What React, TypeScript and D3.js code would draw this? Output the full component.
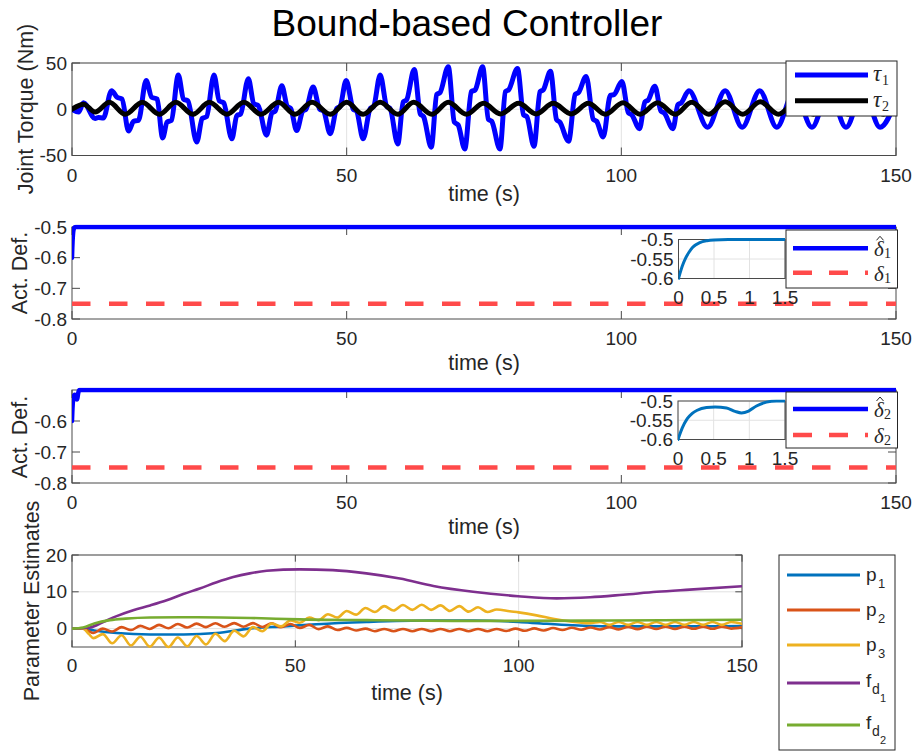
import React from "react";
import * as d3 from "d3";

const WIDTH = 918;
const HEIGHT = 751;
const SANS = "'Liberation Sans', Arial, Helvetica, sans-serif";
const SERIF = "'Liberation Serif', 'DejaVu Serif', 'Times New Roman', serif";
const INK = "#262626";
const AXIS = "#4a4a4a";
const GRID = "#e2e2e2";

// ---------- shared ticks ----------
const timeTicks = [0, 50, 100, 150];
const torqueTicks = [-50, 0, 50];
const def1Ticks = [-0.8, -0.7, -0.6, -0.5];
const def2Ticks = [-0.8, -0.7, -0.6];
const paramTicks = [0, 10, 20];
const zoomTimeTicks = [0, 0.5, 1, 1.5];
const zoomDefTicks = [-0.6, -0.55, -0.5];

// ---------- joint torques (Nm) ----------
const tau1Time = [0, 1.2, 2.1, 4.2, 4.8, 5.7, 7.2, 8.2, 9.1, 10.3, 11.2, 12.1, 13.5, 14.5, 15.5, 16.5, 17.3, 18.1, 19.35, 20.3, 21.1, 22.7, 23.7, 24.5, 25.85, 26.8, 27.6, 29.1, 30.0, 30.7, 32.1, 33.1, 33.9, 35.4, 36.4, 37.0, 38.2, 39.2, 39.8, 40.9, 42.0, 42.6, 43.9, 45.1, 45.8, 47.0, 48.2, 48.8, 49.9, 51.2, 51.8, 53.0, 54.3, 54.9, 56.1, 57.3, 57.9, 59.3, 60.3, 60.9, 62.3, 63.4, 64.0, 65.4, 66.4, 67.0, 68.5, 69.6, 70.3, 71.5, 72.7, 73.4, 74.75, 75.8, 76.4, 77.9, 78.9, 79.5, 81.1, 82.2, 82.8, 84.1, 85.2, 85.8, 87.1, 88.2, 88.8, 90.4, 91.6, 92.2, 93.6, 94.9, 95.5, 96.7, 98.0, 98.7, 100.1, 101.3, 101.9, 103.3, 104.3, 104.9, 106.1, 107.2, 107.8, 109.4, 110.3, 110.9, 112.3, 115.7, 118.9, 122.0, 125.2, 128.3, 131.5, 134.7, 137.8, 140.9, 144.0, 147.1, 150];
const tau1Value = [0, -3, 7, -10, -9, -9.5, 20, 13, 11, -23.5, -13, -12, 31, 13, 11, -31, -14, -12, 37, 11, 9, -35.5, -10, -8, 37, 9, 7, -32, -7, -5, 33, 6, 4, -28, -4, -2, 25.4, 3, 1, -23, -2, 0, 24, 0, -2, -26.5, 1, 3, 31, 0, -2, -32, 1, 3, 37, 3, 1, -37.5, 8, 10, 43, -5, -8, -41, 16, 18, 46, -14, -17, -43, 19, 21, 46, -11, -13, -43, 19, 21, 44, -6, -8, -40, 19, 21, 41, -11, -14, -34.5, 16, 18, 35.5, -11, -13, -30, 15, 16, 30, -4, -6, -21, 8, 10, 25, -2, -4, -21, 5, 7, 20, -19.5, 20, -19.5, 20, -19.5, 20, -19.5, 20, -19.5, 20, -19.5, 10];

const tau2Time = [0, 2.1, 4.2, 6.8, 9.7, 12.8, 15.9, 18.9, 22.0, 25.0, 28.2, 31.3, 34.4, 37.6, 40.6, 43.7, 47.0, 50.0, 53.0, 56.1, 59.3, 62.2, 65.5, 68.5, 71.8, 74.9, 78.0, 81.3, 84.5, 87.6, 90.9, 94.0, 97.1, 100.3, 103.4, 106.6, 109.8, 112.8, 115.9, 118.9, 122.1, 125.3, 128.6, 131.8, 135.0, 138.1, 141.3, 144.5, 147.7, 150];
const tau2Value = [0, 5.5, -3, 7.5, -5.5, 7.5, -5.5, 7.5, -5.5, 7.5, -5.5, 7.5, -5.5, 7.5, -5.5, 7.5, -5.5, 7.5, -5.5, 7.5, -5.5, 7.5, -5.5, 7.5, -5.5, 6.5, -5, 6.5, -5, 6.5, -5, 6.5, -5.5, 7, -5.5, 7, -5.5, 7.5, -5.5, 8, -5.5, 8, -5.5, 8, -5.5, 8, -5.5, 8, -5.5, 3];

// ---------- actuator deflections ----------
const defHat1Time = [0, 0.05, 0.1, 0.15, 0.2, 0.3, 0.4, 0.5, 0.7, 1.0, 1.5, 150];
const defHat1Value = [-0.6, -0.57, -0.548, -0.532, -0.52, -0.508, -0.503, -0.501, -0.5, -0.5, -0.5, -0.5];
const defHat2Time = [0, 0.06, 0.13, 0.2, 0.27, 0.4, 0.52, 0.68, 0.8, 0.89, 0.99, 1.1, 1.24, 1.38, 1.5, 150];
const defHat2Value = [-0.6, -0.57, -0.546, -0.532, -0.524, -0.517, -0.5155, -0.518, -0.527, -0.531, -0.526, -0.513, -0.503, -0.5, -0.5, -0.5];
const defBoundTime = [0, 150];
const defBound1Value = [-0.75, -0.75];
const defBound2Value = [-0.75, -0.75];

// ---------- parameter estimates ----------
const p1Time = [0, 2.5, 5, 10, 17.5, 25, 32.4, 39.8, 47.3, 54.7, 66, 80, 90, 100, 105, 112, 120, 135, 150];
const p1Value = [0, 0, -0.5, -1.2, -1.6, -1.6, -1.2, 0.0, 0.6, 1.2, 1.8, 2.2, 2.2, 1.8, 1.4, 0.9, 0.6, 0.6, 0.7];

const p2Time = [0, 2.5, 3.6, 4.8, 6.9, 9.0, 11.1, 13.2, 15.3, 17.4, 19.5, 21.6, 23.7, 25.8, 27.9, 30.0, 32.1, 34.2, 36.3, 38.4, 40.5, 42.6, 44.7, 46.8, 48.9, 51.0, 53.1, 55.2, 57.3, 59.4, 61.5, 63.6, 65.7, 67.8, 69.9, 72.0, 74.1, 76.2, 78.3, 80.4, 82.5, 84.6, 86.7, 88.8, 90.9, 93.0, 95.1, 97.2, 99.3, 101.4, 103.5, 105.6, 107.7, 109.8, 111.9, 114.0, 116.1, 118.2, 120.3, 122.4, 124.5, 126.6, 128.7, 130.8, 132.9, 135.0, 137.1, 139.2, 141.3, 143.4, 145.5, 147.6, 150];
const p2Value = [0, 0, -0.6, -1.2, 0.0, -0.8, 0.4, -0.4, 0.75, -0.1, 1.0, 0.1, 1.25, 0.3, 1.35, 0.4, 1.45, 0.5, 1.5, 0.5, 1.5, 0.45, 1.45, 0.35, 1.25, 0.15, 1.0, -0.15, 0.6, -0.4, 0.2, -0.5, 0.0, -0.7, -0.1, -0.7, -0.1, -0.7, -0.1, -0.7, -0.1, -0.7, -0.1, -0.7, -0.1, -0.7, -0.1, -0.65, 0.0, -0.6, 0.05, -0.5, 0.15, -0.4, 0.25, -0.3, 0.3, -0.25, 0.4, -0.2, 0.45, -0.15, 0.5, -0.1, 0.5, -0.1, 0.55, -0.05, 0.55, -0.05, 0.55, 0.0, 0.4];

const p3Time = [0, 2.5, 3.8, 4.8, 6.9, 9.0, 11.1, 13.2, 15.3, 17.4, 19.5, 21.6, 23.7, 25.8, 27.9, 30.0, 32.1, 34.2, 36.3, 38.4, 40.5, 42.6, 44.7, 46.8, 48.9, 51.0, 53.1, 55.2, 57.3, 59.4, 61.5, 63.6, 65.7, 67.8, 69.9, 72.0, 74.1, 76.2, 78.3, 80.4, 82.5, 84.6, 86.7, 88.8, 90.9, 93.0, 95.1, 98, 100, 104, 108, 112, 116, 118.2, 120.3, 122.4, 124.5, 126.6, 128.7, 130.8, 132.9, 135.0, 137.1, 139.2, 141.3, 143.4, 145.5, 147.6, 150];
const p3Value = [0, 0, -1.5, -2.6, -1.5, -4.0, -1.8, -4.6, -2.2, -4.9, -2.5, -5.0, -2.4, -4.8, -2.0, -4.3, -1.4, -3.4, -0.6, -2.1, 0.4, -0.7, 1.4, 0.6, 2.2, 1.6, 3.0, 2.3, 3.9, 3.0, 4.8, 3.8, 5.6, 4.5, 6.1, 4.9, 6.4, 5.1, 6.5, 5.1, 6.3, 4.8, 6.1, 4.6, 5.8, 4.5, 5.2, 4.7, 4.4, 3.6, 2.6, 1.9, 1.5, 1.8, 1.0, 1.8, 1.0, 1.8, 1.0, 1.8, 1.0, 1.8, 1.0, 1.8, 1.0, 1.8, 1.0, 1.8, 1.3];

const fd1Time = [0, 4, 7, 10, 13.7, 17.5, 21.2, 24.9, 28.6, 32.4, 36.1, 39.8, 43.6, 51, 58.4, 65.9, 73.4, 80.9, 89.8, 99.9, 108.5, 116, 123.4, 130.9, 138.3, 150];
const fd1Value = [0, 0.3, 1.8, 3.4, 5.0, 6.3, 7.7, 9.4, 10.9, 12.6, 14.0, 15.0, 15.7, 16.1, 15.9, 15.0, 13.6, 11.6, 10.0, 8.8, 8.2, 8.5, 9.2, 10.0, 10.6, 11.5];

const fd2Time = [0, 2.5, 5, 8.5, 12, 17.5, 28, 40, 51, 66, 87, 100, 120, 150];
const fd2Value = [0, 0.3, 1.4, 2.3, 2.7, 3.0, 3.1, 2.9, 2.5, 2.3, 2.1, 2.1, 2.2, 2.4];

type Series = {
  t: number[];
  v: number[];
  color: string;
  width: number;
  dash?: string;
  curve?: d3.CurveFactory;
};

function linePath(
  s: Series,
  x: d3.ScaleLinear<number, number>,
  y: d3.ScaleLinear<number, number>
): string {
  const idx = d3.range(s.t.length);
  return (
    d3
      .line<number>()
      .x((i) => x(s.t[i]))
      .y((i) => y(s.v[i]))
      .curve(s.curve ?? d3.curveMonotoneX)(idx) ?? ""
  );
}

type AxesProps = {
  id: string;
  left: number;
  right: number;
  top: number;
  bottom: number;
  xDomain: [number, number];
  yDomain: [number, number];
  xTicks: number[];
  yTicks: number[];
  grid: boolean;
  tickLen: number;
  fontSize: number;
  xLabelDrop: number;
  series: Series[];
  background?: boolean;
  clipPad?: number;
};

function Axes(p: AxesProps) {
  const x = d3.scaleLinear().domain(p.xDomain).range([p.left, p.right]);
  const y = d3.scaleLinear().domain(p.yDomain).range([p.bottom, p.top]);
  // strokes may spill a few pixels past the axes limits
  const pad = p.clipPad ?? 2.5;
  return (
    <g>
      <defs>
        <clipPath id={p.id}>
          <rect x={p.left} y={p.top - pad} width={p.right - p.left} height={p.bottom - p.top + 2 * pad} />
        </clipPath>
      </defs>
      {p.background && (
        <rect x={p.left} y={p.top} width={p.right - p.left} height={p.bottom - p.top} fill="#fff" />
      )}
      {p.grid && (
        <g stroke={GRID} strokeWidth={1}>
          {p.xTicks.map((t) => (
            <line key={"gx" + t} x1={x(t)} x2={x(t)} y1={p.top} y2={p.bottom} />
          ))}
          {p.yTicks.map((v) => (
            <line key={"gy" + v} x1={p.left} x2={p.right} y1={y(v)} y2={y(v)} />
          ))}
        </g>
      )}
      {/* axes box and ticks sit beneath the data lines */}
      <rect
        x={p.left}
        y={p.top}
        width={p.right - p.left}
        height={p.bottom - p.top}
        fill="none"
        stroke={AXIS}
        strokeWidth={1}
      />
      {p.tickLen > 0 && (
        <g stroke={AXIS} strokeWidth={1}>
          {p.xTicks.map((t) => (
            <g key={"tx" + t}>
              <line x1={x(t)} x2={x(t)} y1={p.bottom} y2={p.bottom - p.tickLen} />
              <line x1={x(t)} x2={x(t)} y1={p.top} y2={p.top + p.tickLen} />
            </g>
          ))}
          {p.yTicks.map((v) => (
            <g key={"ty" + v}>
              <line x1={p.left} x2={p.left + p.tickLen} y1={y(v)} y2={y(v)} />
              <line x1={p.right} x2={p.right - p.tickLen} y1={y(v)} y2={y(v)} />
            </g>
          ))}
        </g>
      )}
      <g clipPath={`url(#${p.id})`} fill="none">
        {p.series.map((s, i) => (
          <path
            key={i}
            d={linePath(s, x, y)}
            stroke={s.color}
            strokeWidth={s.width}
            strokeDasharray={s.dash}
            strokeLinejoin="round"
            strokeLinecap={s.dash ? "butt" : "round"}
          />
        ))}
      </g>
      <g fontFamily={SANS} fontSize={p.fontSize} fill={INK}>
        {p.xTicks.map((t) => (
          <text key={"lx" + t} x={x(t)} y={p.bottom + p.xLabelDrop} textAnchor="middle">
            {String(t)}
          </text>
        ))}
        {p.yTicks.map((v) => (
          <text key={"ly" + v} x={p.left - 5} y={y(v)} dy="0.35em" textAnchor="end">
            {String(v)}
          </text>
        ))}
      </g>
    </g>
  );
}

function Frame({ x, y, w, h }: { x: number; y: number; w: number; h: number }) {
  return <rect x={x} y={y} width={w} height={h} fill="#fff" stroke={INK} strokeWidth={1} />;
}

function Sample({ x1, x2, y, color, width, dash }: { x1: number; x2: number; y: number; color: string; width: number; dash?: string }) {
  return <line x1={x1} x2={x2} y1={y} y2={y} stroke={color} strokeWidth={width} strokeDasharray={dash} />;
}

function DeltaLabel({ x, y, sub, hat }: { x: number; y: number; sub: string; hat: boolean }) {
  return (
    <g fontFamily={SERIF} fill={INK}>
      <text x={x} y={y + 8} fontSize={21} fontStyle="italic">δ</text>
      {hat && (
        <path
          d={`M${x + 2.5},${y - 8} L${x + 6},${y - 12} L${x + 9.5},${y - 8}`}
          fill="none"
          stroke={INK}
          strokeWidth={1}
        />
      )}
      <text x={x + 10} y={y + 10} fontSize={14}>{sub}</text>
    </g>
  );
}

function TauLabel({ x, y, sub }: { x: number; y: number; sub: string }) {
  return (
    <g fontFamily={SERIF} fill={INK}>
      <text x={x} y={y + 6} fontSize={23} fontStyle="italic">τ</text>
      <text x={x + 9} y={y + 10} fontSize={14}>{sub}</text>
    </g>
  );
}

function ParamLabel({ x, y, sub }: { x: number; y: number; sub: string }) {
  return (
    <g fontFamily={SANS} fill={INK}>
      <text x={x} y={y + 5.5} fontSize={19}>p</text>
      <text x={x + 12} y={y + 13} fontSize={13}>{sub}</text>
    </g>
  );
}

function ForceLabel({ x, y, sub }: { x: number; y: number; sub: string }) {
  return (
    <g fontFamily={SANS} fill={INK}>
      <text x={x} y={y + 3.5} fontSize={19}>f</text>
      <text x={x + 6} y={y + 11} fontSize={14}>d</text>
      <text x={x + 14} y={y + 19} fontSize={11}>{sub}</text>
    </g>
  );
}

const BLUE = "#0000ff";
const RED = "#ff4a4a";
const M_BLUE = "#0072BD";
const M_ORANGE = "#D95319";
const M_YELLOW = "#EDB120";
const M_PURPLE = "#7E2F8E";
const M_GREEN = "#77AC30";

export default function App() {
  const tau1: Series = { t: tau1Time, v: tau1Value, color: BLUE, width: 5 };
  const tau2: Series = { t: tau2Time, v: tau2Value, color: "#000", width: 5 };
  const hat1: Series = { t: defHat1Time, v: defHat1Value, color: BLUE, width: 4.5 };
  const hat2: Series = { t: defHat2Time, v: defHat2Value, color: BLUE, width: 4.5 };
  const bound1: Series = { t: defBoundTime, v: defBound1Value, color: RED, width: 4.5, dash: "18.5 18.5", curve: d3.curveLinear };
  const bound2: Series = { t: defBoundTime, v: defBound2Value, color: RED, width: 4.5, dash: "18.5 18.5", curve: d3.curveLinear };
  const zoom1: Series = { t: defHat1Time, v: defHat1Value, color: M_BLUE, width: 3 };
  const zoom2: Series = { t: defHat2Time, v: defHat2Value, color: M_BLUE, width: 3 };
  const params: Series[] = [
    { t: p1Time, v: p1Value, color: M_BLUE, width: 2.6 },
    { t: p2Time, v: p2Value, color: M_ORANGE, width: 2.6 },
    { t: p3Time, v: p3Value, color: M_YELLOW, width: 2.6 },
    { t: fd1Time, v: fd1Value, color: M_PURPLE, width: 2.6 },
    { t: fd2Time, v: fd2Value, color: M_GREEN, width: 2.6 },
  ];
  const paramNames = ["1", "2", "3"];

  return (
    <div style={{ position: "absolute", left: 0, top: 0 }}>
      <svg width={WIDTH} height={HEIGHT} viewBox={`0 0 ${WIDTH} ${HEIGHT}`} style={{ display: "block", background: "#fff" }}>
        <rect x={0} y={0} width={WIDTH} height={HEIGHT} fill="#fff" />
        <text x={467} y={36} fontFamily={SANS} fontSize={37} textAnchor="middle" fill="#000">
          Bound-based Controller
        </text>

        {/* Joint torques */}
        <Axes
          id="clip-torque"
          left={72}
          right={896}
          top={63}
          bottom={155.5}
          xDomain={[0, 150]}
          yDomain={[-50, 50]}
          xTicks={timeTicks}
          yTicks={torqueTicks}
          grid={true}
          tickLen={8}
          fontSize={19}
          xLabelDrop={26}
          series={[tau1, tau2]}
        />
        <text x={484} y={200.5} fontFamily={SANS} fontSize={21.5} fill={INK} textAnchor="middle">time (s)</text>
        <text transform="translate(32.5,109) rotate(-90)" fontFamily={SANS} fontSize={21.5} fill={INK} textAnchor="middle">
          Joint Torque (Nm)
        </text>
        <Frame x={786} y={61} w={111} h={55} />
        <Sample x1={795} x2={868} y={75} color={BLUE} width={5} />
        <Sample x1={795} x2={868} y={100.7} color="#000" width={5} />
        <TauLabel x={873} y={75} sub="1" />
        <TauLabel x={873} y={100.7} sub="2" />

        {/* Actuator deflection 1 */}
        <Axes
          id="clip-def1"
          left={72}
          right={896}
          top={227}
          bottom={319}
          xDomain={[0, 150]}
          yDomain={[-0.8, -0.5]}
          xTicks={timeTicks}
          yTicks={def1Ticks}
          grid={false}
          tickLen={8}
          fontSize={19}
          xLabelDrop={26}
          series={[hat1, bound1]}
        />
        <text x={484} y={370} fontFamily={SANS} fontSize={21.5} fill={INK} textAnchor="middle">time (s)</text>
        <text transform="translate(26.5,273) rotate(-90)" fontFamily={SANS} fontSize={21.5} fill={INK} textAnchor="middle">
          Act. Def.
        </text>
        <Axes
          id="clip-zoom1"
          left={678.5}
          right={785}
          top={239.5}
          bottom={278.5}
          xDomain={[0, 1.5]}
          yDomain={[-0.6, -0.5]}
          xTicks={zoomTimeTicks}
          yTicks={zoomDefTicks}
          grid={true}
          tickLen={0}
          fontSize={19}
          xLabelDrop={25}
          series={[zoom1]}
          background={true}
          clipPad={1.5}
        />
        <Frame x={786} y={230} w={111.5} h={58} />
        <Sample x1={793} x2={868} y={248.3} color={BLUE} width={4.5} />
        <Sample x1={793} x2={868} y={272.7} color={RED} width={4.5} dash="19 17" />
        <DeltaLabel x={874} y={248.3} sub="1" hat={true} />
        <DeltaLabel x={874} y={272.7} sub="1" hat={false} />

        {/* Actuator deflection 2 */}
        <Axes
          id="clip-def2"
          left={72}
          right={896}
          top={390}
          bottom={483}
          xDomain={[0, 150]}
          yDomain={[-0.8, -0.5]}
          xTicks={timeTicks}
          yTicks={def2Ticks}
          grid={false}
          tickLen={8}
          fontSize={19}
          xLabelDrop={26}
          series={[hat2, bound2]}
        />
        <text x={484} y={534} fontFamily={SANS} fontSize={21.5} fill={INK} textAnchor="middle">time (s)</text>
        <text transform="translate(26.5,437) rotate(-90)" fontFamily={SANS} fontSize={21.5} fill={INK} textAnchor="middle">
          Act. Def.
        </text>
        <Axes
          id="clip-zoom2"
          left={678}
          right={785}
          top={401}
          bottom={439.5}
          xDomain={[0, 1.5]}
          yDomain={[-0.6, -0.5]}
          xTicks={zoomTimeTicks}
          yTicks={zoomDefTicks}
          grid={true}
          tickLen={0}
          fontSize={19}
          xLabelDrop={25}
          series={[zoom2]}
          background={true}
          clipPad={1.5}
        />
        <Frame x={786} y={392} w={111.5} h={56} />
        <Sample x1={793} x2={868} y={409} color={BLUE} width={4.5} />
        <Sample x1={793} x2={868} y={435} color={RED} width={4.5} dash="19 17" />
        <DeltaLabel x={874} y={409} sub="2" hat={true} />
        <DeltaLabel x={874} y={435} sub="2" hat={false} />

        {/* Parameter estimates */}
        <Axes
          id="clip-param"
          left={72}
          right={742}
          top={555}
          bottom={647}
          xDomain={[0, 150]}
          yDomain={[-5, 20]}
          xTicks={timeTicks}
          yTicks={paramTicks}
          grid={true}
          tickLen={6.7}
          fontSize={19}
          xLabelDrop={25}
          series={params}
        />
        <text x={407} y={699.5} fontFamily={SANS} fontSize={21.5} fill={INK} textAnchor="middle">time (s)</text>
        <text transform="translate(39,601) rotate(-90)" fontFamily={SANS} fontSize={21.5} fill={INK} textAnchor="middle">
          Parameter Estimates
        </text>
        <Frame x={779} y={555} w={116} h={195} />
        {[575, 610, 645].map((ry, i) => (
          <g key={"pl" + i}>
            <Sample x1={787} x2={860} y={ry} color={params[i].color} width={3} />
            <ParamLabel x={866} y={ry} sub={paramNames[i]} />
          </g>
        ))}
        <Sample x1={787} x2={860} y={683} color={M_PURPLE} width={3} />
        <ForceLabel x={866} y={683} sub="1" />
        <Sample x1={787} x2={860} y={725} color={M_GREEN} width={3} />
        <ForceLabel x={866} y={725} sub="2" />
      </svg>
    </div>
  );
}
